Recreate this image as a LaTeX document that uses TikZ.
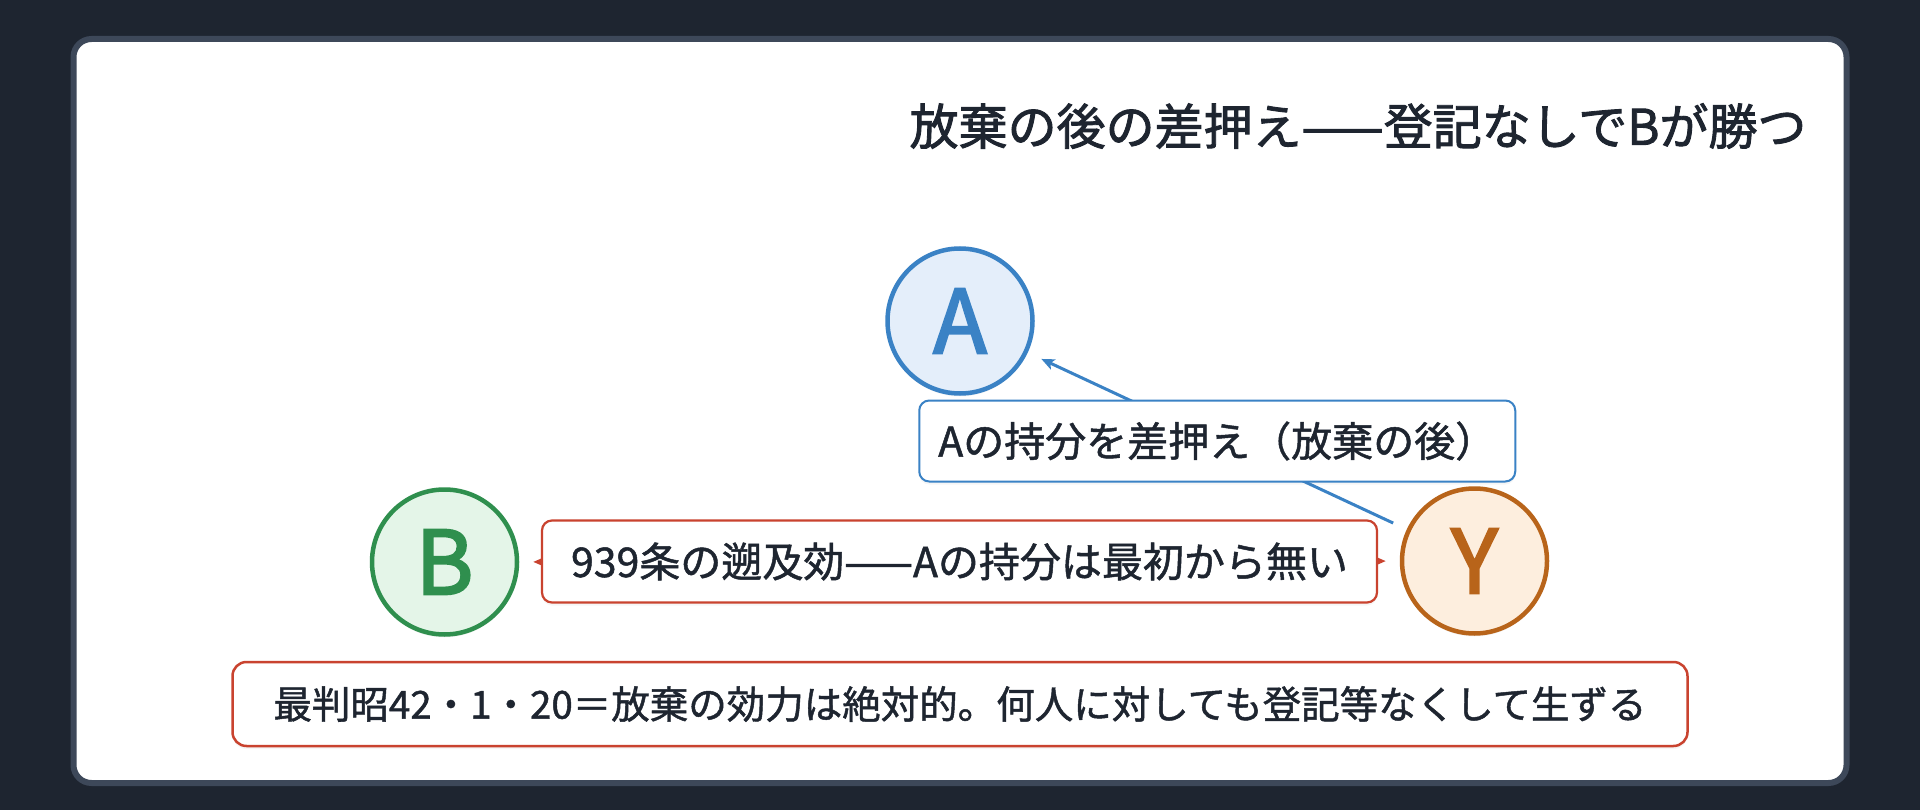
\documentclass[tikz,border=0pt]{standalone}
\usepackage{fontspec}
\setmainfont{Noto Sans CJK JP}
\newfontfamily\medfont[FakeBold=1.2]{Noto Sans CJK JP}
\newfontfamily\titlefont[FakeBold=1.8]{Noto Sans CJK JP}
\newfontfamily\letterfont[FakeBold=2.6]{Noto Sans CJK JP}
\usetikzlibrary{arrows.meta,shadows}
\definecolor{bgc}{HTML}{1E2530}
\definecolor{panelb}{HTML}{3D4859}
\definecolor{ink}{HTML}{1E2530}
\definecolor{ablue}{HTML}{3A82C5}
\definecolor{afill}{HTML}{E4EEFA}
\definecolor{bgreen}{HTML}{2F8F4E}
\definecolor{bfill}{HTML}{E4F5E8}
\definecolor{yorange}{HTML}{B8641A}
\definecolor{yfill}{HTML}{FDEEDE}
\definecolor{rred}{HTML}{C9432F}
\tikzset{
  party/.style={circle, inner sep=0pt, minimum size=145pt, line width=4.5pt,
    font=\letterfont\fontsize{88}{88}\selectfont,
    drop shadow={opacity=0.07, shadow xshift=0pt, shadow yshift=-3pt}},
  lbl/.style={rounded corners=10pt, line width=2.2pt, fill=white, inner sep=0pt,
    font=\medfont\fontsize{41}{49}\selectfont, text=ink,
    drop shadow={opacity=0.07, shadow xshift=0pt, shadow yshift=-3pt}},
  blueline/.style={draw=ablue, line width=3pt, shorten >=15pt, shorten <=15pt},
  redline/.style={draw=rred, line width=3pt, shorten >=14pt, shorten <=14pt}
}
\begin{document}
\begin{tikzpicture}[x=1pt,y=-1pt]
\fill[bgc] (0,0) rectangle (1920,810);
\useasboundingbox (0,0) rectangle (1920,810);
\draw[panelb, line width=6pt, fill=white, rounded corners=18pt] (73.5,39) rectangle (1846.5,783);

\node[anchor=east, font=\titlefont\fontsize{49}{58}\selectfont, text=ink] (title) at (1810,126) {放棄の後の差押え——登記なしでBが勝つ};

\node[party, draw=ablue, fill=afill, text=ablue] (A) at (960,321) {A};
\node[party, draw=bgreen, fill=bfill, text=bgreen] (B) at (444.5,562) {B};
\node[party, draw=yorange, fill=yfill, text=yorange] (Y) at (1474.5,561) {Y};

\draw[blueline, -{Stealth[length=13pt,width=11pt,inset=3pt]}] (Y) --
  node[lbl, draw=ablue, line width=2pt, minimum width=596pt, minimum height=81pt] (sashi) {Aの持分を差押え（放棄の後）} (A);

\draw[redline, {Stealth[length=12pt,width=10pt,inset=2pt]}-{Stealth[length=12pt,width=10pt,inset=2pt]}] (B) --
  node[lbl, draw=rred, minimum width=835pt, minimum height=82pt] (sokyu) {939条の遡及効——Aの持分は最初から無い} (Y);

\node[lbl, draw=rred, line width=2.5pt, rounded corners=14pt, minimum width=1455pt, minimum height=84pt, font=\medfont\fontsize{38.5}{46}\selectfont] (hanrei) at (960,704) {最判昭42・1・20＝放棄の効力は絶対的。何人に対しても登記等なくして生ずる};
\end{tikzpicture}
\end{document}
